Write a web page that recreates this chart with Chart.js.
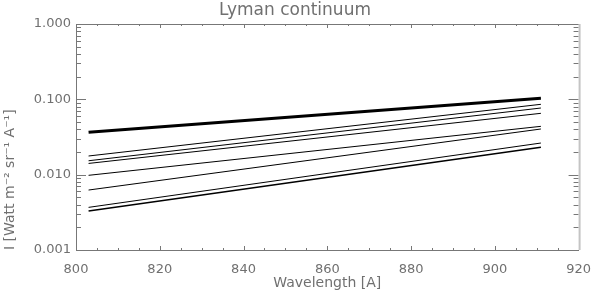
<!DOCTYPE html>
<html>
<head>
<meta charset="utf-8">
<script src="https://cdn.jsdelivr.net/npm/chart.js@4/dist/chart.umd.min.js"></script>
<style>
  html, body { margin: 0; padding: 0; background: #fff; }
  #wrap { width: 603px; height: 298px; }
</style>
</head>
<body>
<div id="wrap"><canvas id="chart" width="603" height="298"></canvas></div>
<script>
// Wavelength end points [A] and intensities, brightest first.
const wavelengths = [803, 911];
const curveThick = [0.0365, 0.103];
const curve2 = [0.0177, 0.0859];
const curve3 = [0.0153, 0.0767];
const curve4 = [0.0141, 0.0652];
const curve5 = [0.0098, 0.0438];
const curve6 = [0.00625, 0.0404];
const curve7 = [0.00368, 0.0263];
const curve8 = [0.0033, 0.0231];

const xTicks = [800, 820, 840, 860, 880, 900, 920];
const yTicks = [0.001, 0.01, 0.1, 1];

const axisGrey = "#777";
const textGrey = "#707070";

function series(values, width) {
  return {
    data: values.map((v, i) => ({ x: wavelengths[i], y: v })),
    borderColor: "#000",
    backgroundColor: "#000",
    borderWidth: width,
    pointRadius: 0,
    tension: 0,
  };
}

// IDL-style frame: inward major/minor ticks on all four sides
const framePlugin = {
  id: "frame",
  afterDraw(chart) {
    const { ctx, chartArea: a, scales } = chart;
    const xs = scales.x, ys = scales.y;
    ctx.save();
    ctx.strokeStyle = axisGrey;
    ctx.lineWidth = 1;
    ctx.beginPath();
    ctx.moveTo(a.left, a.top + 0.5);
    ctx.lineTo(a.right, a.top + 0.5);
    for (let w = 800; w <= 920; w += 5) {
      const px = Math.round(xs.getPixelForValue(w)) + 0.5;
      const len = w % 20 === 0 ? 4 : 2;
      ctx.moveTo(px, a.bottom);
      ctx.lineTo(px, a.bottom - len);
      ctx.moveTo(px, a.top);
      ctx.lineTo(px, a.top + len);
    }
    for (let d = 0.001; d < 1.5; d *= 10) {
      for (let m = 1; m <= 9; m++) {
        const v = d * m;
        if (v > 1.0001) break;
        const py = Math.round(ys.getPixelForValue(v)) + 0.5;
        const len = m === 1 ? 10 : 5;
        ctx.moveTo(a.left, py);
        ctx.lineTo(a.left + len, py);
        ctx.moveTo(a.right, py);
        ctx.lineTo(a.right - len, py);
      }
    }
    ctx.stroke();
    ctx.strokeStyle = "#c4c4c4";
    ctx.lineWidth = 2;
    ctx.beginPath();
    ctx.moveTo(a.right + 1, a.top);
    ctx.lineTo(a.right + 1, a.bottom);
    ctx.stroke();
    ctx.restore();
  },
};

new Chart(document.getElementById("chart"), {
  type: "line",
  data: {
    datasets: [
      series(curveThick, 3),
      series(curve2, 1),
      series(curve3, 1),
      series(curve4, 1),
      series(curve5, 1),
      series(curve6, 1),
      series(curve7, 1),
      series(curve8, 1.6),
    ],
  },
  options: {
    responsive: false,
    animation: false,
    layout: { padding: { left: 0, right: 13, top: 0, bottom: 0 } },
    plugins: {
      legend: { display: false },
      tooltip: { enabled: false },
      title: {
        display: true,
        text: "Lyman continuum",
        color: textGrey,
        font: { family: "DejaVu Sans", size: 17, weight: "normal" },
        padding: { top: 0, bottom: 3.6 },
      },
    },
    scales: {
      x: {
        type: "linear",
        min: 800,
        max: 920,
        afterBuildTicks: (s) => { s.ticks = xTicks.map((v) => ({ value: v })); },
        afterFit: (s) => { s.height = 48; },
        grid: { display: false, drawTicks: false },
        border: { color: axisGrey, width: 1 },
        ticks: {
          color: textGrey,
          padding: 12,
          maxRotation: 0,
          font: { family: "DejaVu Sans", size: 13 },
        },
        title: {
          display: true,
          text: "Wavelength [A]",
          color: textGrey,
          font: { family: "DejaVu Sans", size: 14 },
          padding: { top: 0, bottom: 6.6 },
        },
      },
      y: {
        type: "logarithmic",
        min: 0.001,
        max: 1,
        afterBuildTicks: (s) => { s.ticks = yTicks.map((v) => ({ value: v })); },
        afterFit: (s) => { s.width = 76; },
        grid: { display: false, drawTicks: false },
        border: { color: axisGrey, width: 1 },
        ticks: {
          color: textGrey,
          padding: 5,
          font: { family: "DejaVu Sans", size: 13 },
          callback: (v) => Number(v).toFixed(3),
        },
        title: {
          display: true,
          text: "I [Watt m⁻² sr⁻¹ A⁻¹]",
          align: "start",
          color: textGrey,
          font: { family: "DejaVu Sans", size: 14 },
          padding: { top: 1.6, bottom: 0 },
        },
      },
    },
  },
  plugins: [framePlugin],
});
</script>
</body>
</html>
